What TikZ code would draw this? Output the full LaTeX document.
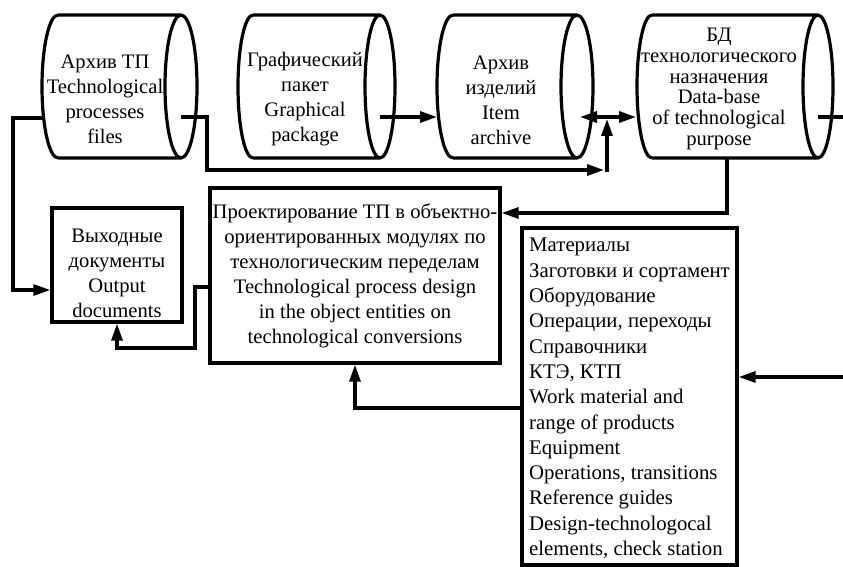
\documentclass[tikz,border=0pt]{standalone}
\usepackage{fontspec}
\setmainfont{Liberation Serif}
\usetikzlibrary{arrows.meta}
\newcommand\cylshape[3]{%
  \draw[shapeline] ({#1+#3},15) -- ({#2-#3},15)
    ({#1+#3},158) -- ({#2-#3},158)
    ({#1+#3},15) arc[start angle=90,end angle=270,x radius=#3pt,y radius=71.5pt]
    ({#2-#3},86.5) ellipse[x radius=#3pt, y radius=71.5pt];}
\begin{document}
\begin{tikzpicture}[x=1pt,y=-1pt,
  shapeline/.style={line width=3.2pt, line join=round},
  box/.style={draw, line width=3.3pt, inner sep=0pt},
  conn/.style={line width=3.2pt},
  arr/.style={conn, -{Triangle[length=17pt,width=11pt]}},
  darr/.style={conn, {Triangle[length=17pt,width=11pt]}-{Triangle[length=17pt,width=11pt]}},
  lbl/.style={font=\fontsize{20.6}{25}\selectfont, align=center, inner sep=0pt},
  lbls/.style={font=\fontsize{20.6}{20.8}\selectfont, align=center, inner sep=0pt},
  lbll/.style={font=\fontsize{20.8}{25.3}\selectfont, align=left, inner sep=0pt}]
\useasboundingbox (0,0) rectangle (843,567);

% cylinders
\cylshape{42}{197}{16}
\cylshape{238}{395}{15}
\cylshape{437}{593}{16}
\cylshape{637}{833}{15}

\node[lbl] (c1) at (105,99) {Архив ТП\\Technological\\processes\\files};
\node[lbl] (c2) at (305,99) {Графический\\пакет\\Graphical\\package};
\node[lbl] (c3) at (501,100) {Архив\\изделий\\Item\\archive};
\node[lbls] (c4) at (719,89) {БД\\технологического\\назначения\\Data-base\\of technological\\purpose};

\coordinate (c1L) at (42,118);
\coordinate (c1R) at (181,117);
\coordinate (c2R) at (380,117);
\coordinate (c3L) at (437,117);
\coordinate (c3R) at (580,117);
\coordinate (c4L) at (636,117);
\coordinate (c4R) at (818,117);
\coordinate (c4B) at (727,158);
\coordinate (edgeR) at (843,117);
\coordinate (edgeR2) at (843,377);
\coordinate (j) at (607,119);
\coordinate (jb) at (607,172);

% boxes
\node[box, minimum width=130pt, minimum height=114pt] (out) at (117,265) {};
\node[lbl] (outt) at (117,273) {Выходные\\документы\\Output\\documents};

\node[box, lbl, minimum width=290pt, minimum height=175pt] (des) at (355,275.5)
  {Проектирование ТП в объектно-\\ориентированных модулях по\\технологическим переделам\\Technological process design\\in the object entities on\\technological conversions};

\node[box, minimum width=215pt, minimum height=337pt] (mat) at (629.5,396.5) {};
\node[lbll, anchor=west] (matt) at (529,398.5)
  {Материалы\\Заготовки и сортамент\\Оборудование\\Операции, переходы\\Справочники\\КТЭ, КТП\\Work material and\\range of products\\Equipment\\Operations, transitions\\Reference guides\\Design-technologocal\\elements, check station};

% connectors
\draw[arr] (c1L) -- (13,118) -- (13,290) -- ([yshift=-25pt]out.west);
\draw[arr] (c1R) -- (207,117) -- (207,170) -- (604,170);
\draw[arr] (jb) -- (j);
\draw[arr] (c2R) -- (c3L);
\draw[darr] (c3R) -- (c4L);
\draw[conn] (c4R) -- (edgeR);
\draw[arr] (c4B) -- (727,213) -- ([yshift=62.5pt]des.east);
\draw[arr] ([yshift=-11.5pt]des.west) -- (195,287) -- (195,348) -- (117,348) -- (out.south);
\draw[arr] ([yshift=-11.5pt]mat.west) -- (355,408) -- (des.south);
\draw[arr] (edgeR2) -- ([yshift=19.5pt]mat.east);
\end{tikzpicture}
\end{document}
